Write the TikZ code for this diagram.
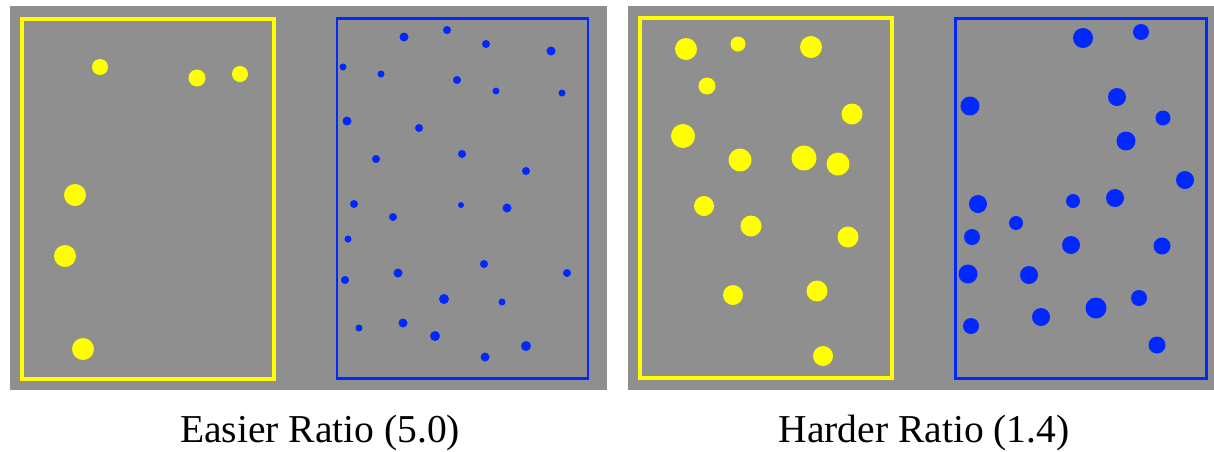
\documentclass[tikz,border=0pt]{standalone}
\usepackage{fontspec}
\setmainfont{Liberation Serif}
\usepackage{tikz}
\definecolor{panelgray}{RGB}{143,143,143}
\definecolor{dotyellow}{RGB}{255,255,0}
\definecolor{dotblue}{RGB}{0,40,255}

\begin{document}
\begin{tikzpicture}[x=0.02cm, y=-0.02cm, every node/.style={font=\fontsize{22.5}{27}\selectfont}]
	\useasboundingbox (0,0) rectangle (1214,451);
	\fill[white] (0,0) rectangle (1214,451);
	\fill[panelgray] (10,6) rectangle (607,390);
	\fill[panelgray] (628,6) rectangle (1214,390);
	\draw[dotyellow, line width=2.3pt] (22,19) rectangle (274,379);
	\draw[dotblue, line width=1.7pt] (337,18) rectangle (588,378);
	\draw[dotyellow, line width=2.3pt] (640,18) rectangle (892,378);
	\draw[dotblue, line width=1.7pt] (955,18) rectangle (1206,378);
	\foreach \x/\y/\r in {100/67/8, 197/78/8.5, 240/74/8, 75/195/11, 65/256/11, 83/349/11}
		\fill[dotyellow] (\x,\y) circle[radius=\r];
	\foreach \x/\y/\r in {404/37/4.5, 447/30/4, 486/44/4, 551/51/4.5, 343/67/3.5, 381/74/3.5, 457/80/4, 496/91/3.5, 562/93/3.5, 347/121/4.5, 419/128/4, 376/159/4, 462/154/4, 526/171/4, 354/204/4, 393/217/4, 461/205/3, 507/208/4.5, 348/239/3.5, 484/264/4, 398/273/4.5, 567/273/4, 345/280/4, 444/299/5, 502/302/3.5, 359/328/3.5, 403/323/4.5, 435/336/5, 526/346/5, 485/357/4.5}
		\fill[dotblue] (\x,\y) circle[radius=\r];
	\foreach \x/\y/\r in {686/49/11, 738/44/7.5, 811/47/11, 707/86/8.5, 852/114/10.5, 683/136/12, 740/160/11.5, 804/158/12.5, 838/164/11.5, 704/206/10, 751/226/10.5, 848/237/10.5, 733/295/10, 817/291/10.5, 823/356/10}
		\fill[dotyellow] (\x,\y) circle[radius=\r];
	\foreach \x/\y/\r in {1083/38/10, 1141/32/8, 970/106/9.5, 1117/97/9, 1163/118/7.5, 1126/141/9.5, 1185/180/9, 978/204/9, 1073/201/7, 1115/198/9, 1016/223/7, 972/237/8, 1071/245/9, 1162/246/8.5, 968/274/9.5, 1029/275/9, 1139/298/8, 1096/308/10.5, 1041/317/9, 971/326/8, 1157/345/8.5}
		\fill[dotblue] (\x,\y) circle[radius=\r];
	\node[anchor=base] (easylabel) at (320,442) {Easier Ratio (5.0)};
	\node[anchor=base] (hardlabel) at (924,442) {Harder Ratio (1.4)};
\end{tikzpicture}
\end{document}
